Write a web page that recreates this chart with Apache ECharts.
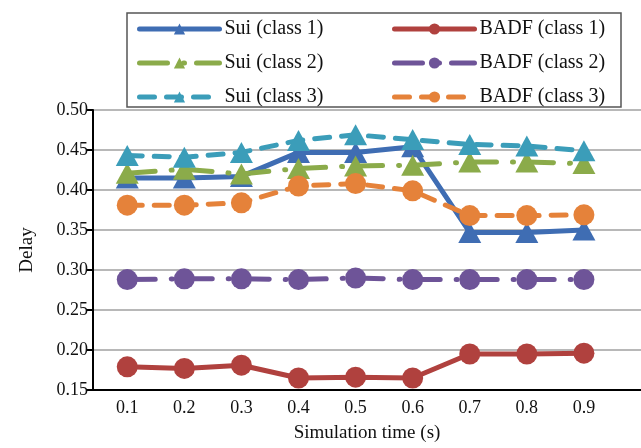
<!DOCTYPE html>
<html>
<head>
<meta charset="utf-8">
<script src="https://cdn.jsdelivr.net/npm/echarts@6/dist/echarts.min.js"></script>
<style>
html,body{margin:0;padding:0;background:#fff;}
#chart{width:641px;height:448px;}
</style>
</head>
<body>
<div id="chart"></div>
<script>
const xValues = [0.1, 0.2, 0.3, 0.4, 0.5, 0.6, 0.7, 0.8, 0.9];
const suiClass1 = [0.415, 0.415, 0.417, 0.447, 0.447, 0.454, 0.347, 0.347, 0.350];
const suiClass2 = [0.421, 0.426, 0.420, 0.427, 0.430, 0.431, 0.435, 0.435, 0.433];
const suiClass3 = [0.443, 0.441, 0.447, 0.462, 0.469, 0.463, 0.457, 0.455, 0.449];
const badfClass1 = [0.179, 0.177, 0.181, 0.165, 0.166, 0.165, 0.195, 0.195, 0.196];
const badfClass2 = [0.288, 0.289, 0.289, 0.288, 0.290, 0.288, 0.288, 0.288, 0.288];
const badfClass3 = [0.381, 0.381, 0.384, 0.405, 0.408, 0.399, 0.368, 0.368, 0.369];
const seriesNames = ['Sui (class 1)', 'Sui (class 2)', 'Sui (class 3)', 'BADF (class 1)', 'BADF (class 2)', 'BADF (class 3)'];

const FONT = '"Liberation Serif", "Times New Roman", serif';
const pairs = arr => arr.map((v, i) => [xValues[i], v]);

const dashDot = [28, 16, 1, 12];
const dashed = [15, 12];

function mk(name, data, color, symbol, dash) {
  return {
    name: name,
    type: 'line',
    data: pairs(data),
    symbol: symbol,
    symbolSize: symbol === 'triangle' ? [23, 21] : 21,
    showSymbol: true,
    color: color,
    itemStyle: { color: color, opacity: 1 },
    lineStyle: { color: color, width: 5, type: dash, cap: 'round', join: 'round' },
    emphasis: { disabled: true },
    animation: false
  };
}

const legendCommon = {
  orient: 'vertical', top: 19, padding: 0,
  itemWidth: 80, itemHeight: 14, itemGap: 14,
  lineStyle: { width: 5, cap: 'round' },
  textStyle: { fontFamily: FONT, fontSize: 20, color: '#111', lineHeight: 18 },
  selectedMode: false, z: 5
};

const chart = echarts.init(document.getElementById('chart'), null, { renderer: 'canvas' });
chart.setOption({
  backgroundColor: '#fff',
  animation: false,
  grid: { left: 93, right: 0, top: 110, bottom: 51, containLabel: false },
  graphic: [{
    type: 'rect', z: 0,
    shape: { x: 127, y: 13, width: 494, height: 94 },
    style: { fill: '#fff', stroke: '#555', lineWidth: 1.5 }
  }],
  legend: [
    Object.assign({ data: seriesNames.slice(0, 3), left: 137 }, legendCommon),
    Object.assign({ data: seriesNames.slice(3), left: 392 }, legendCommon)
  ],
  xAxis: {
    type: 'value', min: 0.04, max: 1.0,
    name: 'Simulation time (s)', nameLocation: 'middle', nameGap: 34,
    nameTextStyle: { fontFamily: FONT, fontSize: 19, color: '#111' },
    axisLine: { show: true, lineStyle: { color: '#000', width: 2 } },
    axisTick: { show: false },
    splitLine: { show: false },
    axisLabel: {
      customValues: xValues,
      formatter: v => v.toFixed(1),
      fontFamily: FONT, fontSize: 18, color: '#111', margin: 9
    }
  },
  yAxis: {
    type: 'value', min: 0.15, max: 0.5, interval: 0.05,
    name: 'Delay', nameLocation: 'middle', nameGap: 56,
    nameTextStyle: { fontFamily: FONT, fontSize: 19, color: '#111' },
    axisLine: { show: true, lineStyle: { color: '#000', width: 2 } },
    axisTick: { show: true, length: 7, lineStyle: { color: '#000', width: 2 } },
    splitLine: { show: true, lineStyle: { color: '#a0a0a0', width: 1.5 } },
    axisLabel: {
      formatter: v => v.toFixed(2),
      fontFamily: FONT, fontSize: 18, color: '#111', margin: 5
    }
  },
  series: [
    mk(seriesNames[0], suiClass1, '#3f6db3', 'triangle', 'solid'),
    mk(seriesNames[1], suiClass2, '#8bab4a', 'triangle', dashDot),
    mk(seriesNames[2], suiClass3, '#3b9db9', 'triangle', dashed),
    mk(seriesNames[3], badfClass1, '#b0413e', 'circle', 'solid'),
    mk(seriesNames[4], badfClass2, '#6e5498', 'circle', dashDot),
    mk(seriesNames[5], badfClass3, '#e5823a', 'circle', dashed)
  ]
});
</script>
</body>
</html>
